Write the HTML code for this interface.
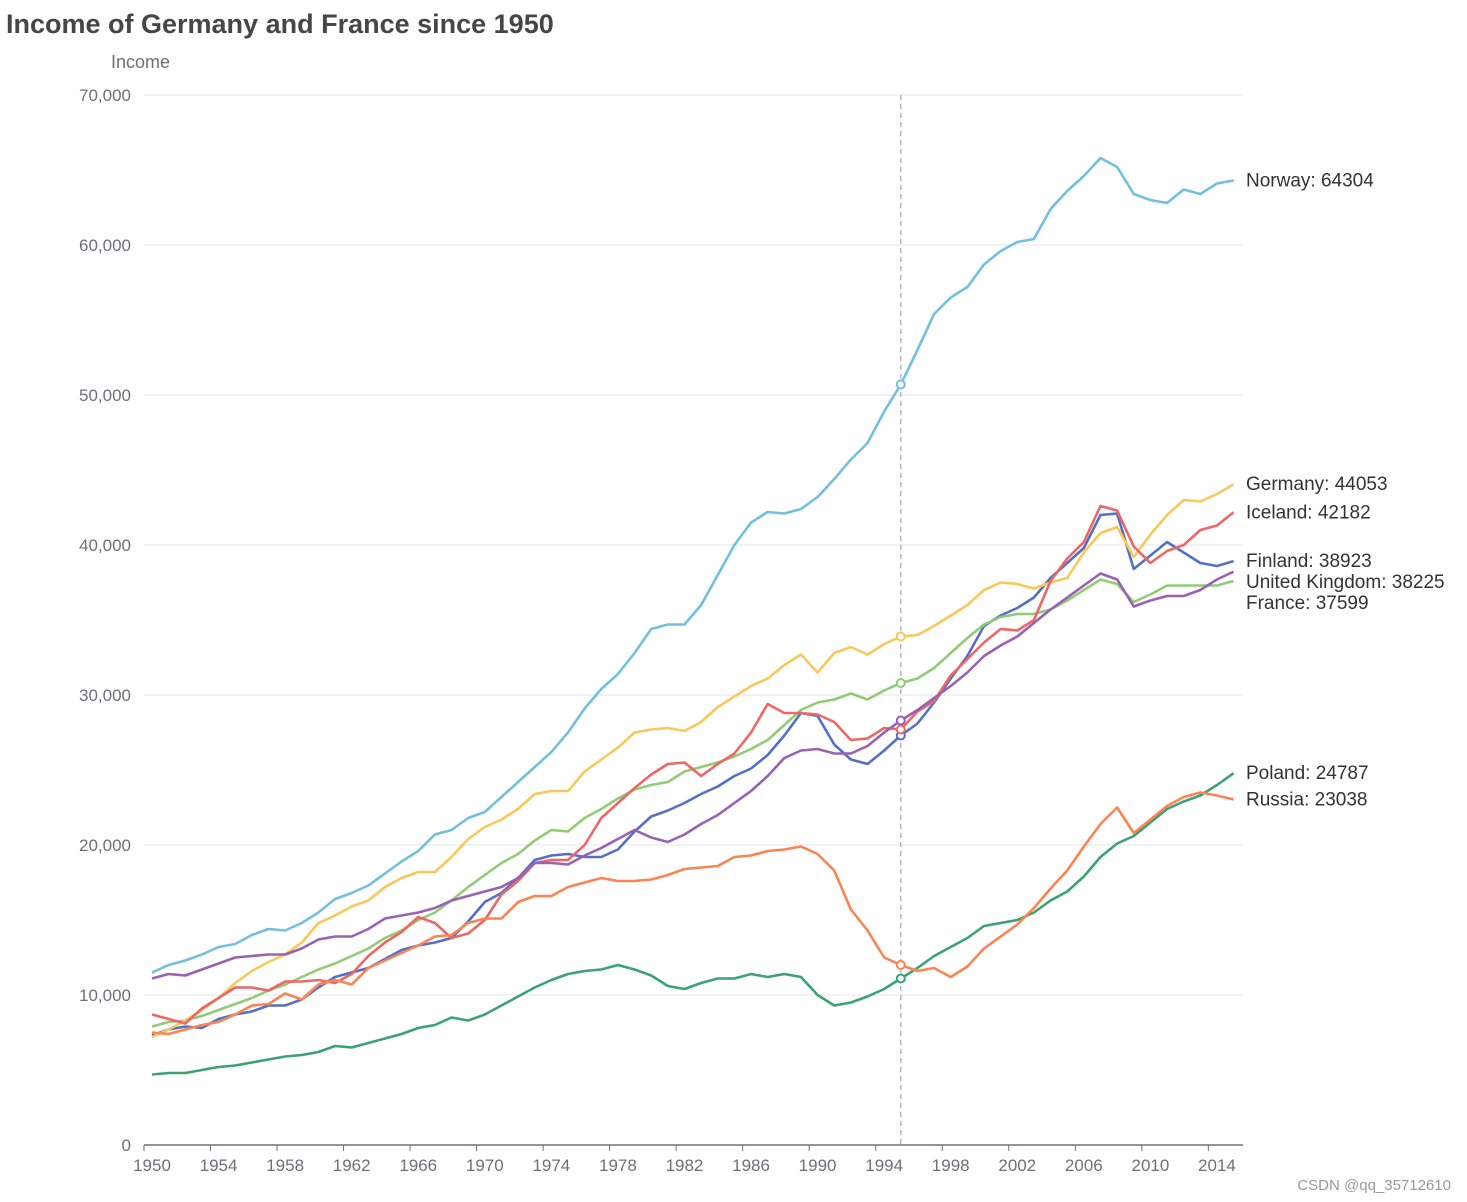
<!DOCTYPE html>
<html><head><meta charset="utf-8"><style>
body{margin:0;background:#fff;}
svg{display:block;font-family:"Liberation Sans","Microsoft YaHei",sans-serif;}
</style></head><body>
<svg id="chart" width="1467" height="1202">
<text x="6" y="33" font-size="27" font-weight="bold" fill="#464646">Income of Germany and France since 1950</text>
<text x="111" y="68" font-size="18" fill="#6e7079">Income</text>
<text x="1451" y="1190" font-size="15" fill="#999" text-anchor="end">CSDN @qq_35712610</text>
<g id="grid"></g><g id="series"></g><g id="labels"></g>
</svg>
<script>
const years=[];for(let y=1950;y<=2015;y++)years.push(y);
const yTicks=[0,10000,20000,30000,40000,50000,60000,70000];
const countries=["Finland","France","Germany","Iceland","Norway","Poland","Russia","United Kingdom"];
const colors=["#5470c6","#91cc75","#fac858","#ee6666","#73c0de","#3ba272","#fc8452","#9a60b4"];
const finland=[7300,7700,7900,7800,8400,8700,8900,9300,9300,9700,10500,11200,11500,11800,12400,13000,13300,13500,13800,14900,16200,16800,17800,19000,19300,19400,19200,19200,19700,20900,21900,22300,22800,23400,23900,24600,25100,26000,27300,28800,28600,26700,25700,25400,26300,27300,28100,29500,31100,32600,34600,35300,35800,36500,37800,38800,39800,42000,42100,38400,39300,40200,39500,38800,38600,38923];
const france=[7900,8200,8300,8600,9000,9400,9800,10300,10700,11200,11700,12100,12600,13100,13800,14300,15000,15500,16300,17200,18000,18800,19400,20300,21000,20900,21800,22400,23100,23700,24000,24200,24900,25200,25500,25900,26400,27000,28000,29000,29500,29700,30100,29700,30300,30800,31100,31800,32800,33800,34700,35200,35400,35400,35700,36300,37000,37700,37400,36200,36700,37300,37300,37300,37300,37599];
const germany=[7200,7700,8300,9000,9800,10800,11600,12200,12700,13500,14800,15300,15900,16300,17200,17800,18200,18200,19200,20400,21200,21700,22400,23400,23600,23600,24900,25700,26500,27500,27700,27800,27600,28200,29200,29900,30600,31100,32000,32700,31500,32800,33200,32700,33400,33900,34000,34600,35300,36000,37000,37500,37400,37100,37500,37800,39500,40800,41200,39200,40700,42000,43000,42900,43400,44053];
const iceland=[8700,8400,8100,9100,9800,10500,10500,10300,10900,10900,11000,10800,11400,12600,13500,14200,15200,14800,13800,14100,15000,16700,17600,18800,19000,19000,20000,21800,22800,23800,24700,25400,25500,24600,25400,26100,27500,29400,28800,28800,28700,28200,27000,27100,27800,27700,28900,29600,31300,32400,33500,34400,34300,35000,37600,39100,40200,42600,42300,39900,38800,39600,40000,41000,41300,42182];
const norway=[11500,12000,12300,12700,13200,13400,14000,14400,14300,14800,15500,16400,16800,17300,18100,18900,19600,20700,21000,21800,22200,23200,24200,25200,26200,27500,29100,30400,31400,32800,34400,34700,34700,36000,38000,40000,41500,42200,42100,42400,43200,44400,45700,46800,48900,50700,53000,55400,56500,57200,58700,59600,60200,60400,62400,63600,64600,65800,65200,63400,63000,62800,63700,63400,64100,64304];
const poland=[4700,4800,4800,5000,5200,5300,5500,5700,5900,6000,6200,6600,6500,6800,7100,7400,7800,8000,8500,8300,8700,9300,9900,10500,11000,11400,11600,11700,12000,11700,11300,10600,10400,10800,11100,11100,11400,11200,11400,11200,10000,9300,9500,9900,10400,11100,11800,12600,13200,13800,14600,14800,15000,15500,16300,16900,17900,19200,20100,20600,21500,22400,22900,23300,24000,24787];
const russia=[7500,7400,7700,8000,8200,8700,9300,9400,10100,9700,10700,11000,10700,11800,12300,12800,13300,13900,14000,14800,15100,15100,16200,16600,16600,17200,17500,17800,17600,17600,17700,18000,18400,18500,18600,19200,19300,19600,19700,19900,19400,18300,15700,14300,12500,12000,11600,11800,11200,11900,13100,13900,14700,15800,17100,18300,19900,21400,22500,20800,21700,22600,23200,23500,23300,23038];
const uk=[11100,11400,11300,11700,12100,12500,12600,12700,12700,13100,13700,13900,13900,14400,15100,15300,15500,15800,16300,16600,16900,17200,17800,18800,18800,18700,19300,19800,20400,21000,20500,20200,20700,21400,22000,22800,23600,24600,25800,26300,26400,26100,26100,26600,27500,28300,29000,29800,30600,31500,32600,33300,33900,34800,35700,36500,37300,38100,37700,35900,36300,36600,36600,37000,37700,38225];
const seriesData=[finland,france,germany,iceland,norway,poland,russia,uk];
const highlightYear=1995;

const NS="http://www.w3.org/2000/svg";
const X0=152,X1=1233.6,Y0=1145,Y1=95,L=144,R=1243;
const xs=y=>X0+(y-years[0])/(years[years.length-1]-years[0])*(X1-X0);
const ys=v=>Y0-v/70000*(Y0-Y1);
function mk(t,a,p){const e=document.createElementNS(NS,t);for(const k in a)e.setAttribute(k,a[k]);p.appendChild(e);return e;}
const grid=document.getElementById('grid'),ser=document.getElementById('series'),lab=document.getElementById('labels');
yTicks.forEach(v=>{
  if(v>0){const g=mk('line',{x1:L,x2:R,y1:ys(v),y2:ys(v),stroke:'#e0e6f1'},grid);
  
  }
  const t=mk('text',{x:131,y:ys(v)+6,'text-anchor':'end','font-size':17,fill:'#6e7079'},grid);
  t.textContent=v.toLocaleString('en-US');
  
  
});
const ax=mk('line',{x1:L,x2:R,y1:Y0,y2:Y0,stroke:'#6e7079','stroke-width':1.5},grid);


years.forEach((y,i)=>{if(i%4)return;
  const tk=mk('line',{x1:L+i*16.63,x2:L+i*16.63,y1:Y0,y2:Y0+6,stroke:'#6e7079'},grid);
  
  
  const t=mk('text',{x:xs(y),y:Y0+26,'text-anchor':'middle','font-size':17,fill:'#6e7079'},grid);
  t.textContent=y;
  
  
});
const hx=xs(highlightYear);
const hl=mk('line',{x1:hx,x2:hx,y1:Y1,y2:Y0,stroke:'#b6b9c4','stroke-dasharray':'5,4','stroke-width':1.5},grid);


const hi=years.indexOf(highlightYear);
const labs=[];
seriesData.forEach((d,s)=>{
  const p=mk('polyline',{points:d.map((v,i)=>xs(years[i])+','+ys(v)).join(' '),fill:'none',stroke:colors[s],'stroke-width':2.6,'stroke-linejoin':'round'},ser);
  
  
  const c=mk('circle',{cx:hx,cy:ys(d[hi]),r:4,fill:'#fff',stroke:colors[s],'stroke-width':2},ser);
  
  
  labs.push({s,y:ys(d[d.length-1]),txt:countries[s]+': '+d[d.length-1]});
});
labs.sort((a,b)=>a.y-b.y);
for(let i=1;i<labs.length;i++)if(labs[i].y-labs[i-1].y<21)labs[i].y=labs[i-1].y+21;
labs.forEach(o=>{
  const t=mk('text',{x:1246,y:o.y+6,'font-size':19,fill:'#333'},lab);
  t.textContent=o.txt;
  
  
});
</script>
</body></html>
